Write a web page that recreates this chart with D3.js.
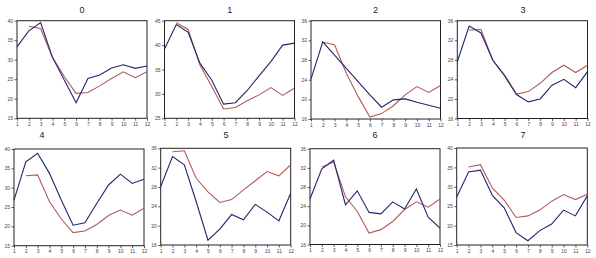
<!DOCTYPE html>
<html><head><meta charset="utf-8">
<script src="https://cdn.jsdelivr.net/npm/d3@7"></script>
<style>body{margin:0;background:#fff}svg{display:block}</style>
</head><body>
<script>
const months = [1,2,3,4,5,6,7,8,9,10,11,12];
const panelTitles = ["0","1","2","3","4","5","6","7"];
const yDomains = [[15,40],[25,45],[16,36],[16,36],[15,40],[16,36],[16,36],[15,40]];
const yTicks = [
  [15,20,25,30,35,40],[25,30,35,40,45],[16,20,24,28,32,36],[16,20,24,28,32,36],
  [15,20,25,30,35,40],[16,20,24,28,32,36],[16,20,24,28,32,36],[15,20,25,30,35,40]];
// blue series: months 1..12
const blue = [
  [33.3,37.4,39.5,30.6,24.8,19.0,25.2,26.1,27.9,28.7,27.8,28.4],
  [39.2,44.2,42.6,36.3,32.8,27.9,28.2,30.7,33.7,36.6,40.0,40.4],
  [24.1,31.7,29.0,26.3,23.6,20.9,18.4,19.9,20.1,19.4,18.8,18.2],
  [27.6,34.9,33.5,27.9,24.7,20.9,19.4,20.0,22.8,24.0,22.3,25.6],
  [26.8,36.7,38.9,33.7,26.8,20.3,20.9,25.9,30.7,33.5,31.1,32.2],
  [28.1,34.3,32.6,25.0,17.0,19.3,22.3,21.2,24.4,22.8,21.0,26.7],
  [25.5,31.8,33.6,24.3,27.2,22.7,22.4,24.9,23.4,27.6,21.7,19.4],
  [27.4,33.8,34.3,27.8,24.6,18.2,16.1,18.7,20.4,24.0,22.5,27.7]];
// red series: months 2..12
const red = [
  [38.6,38.0,30.6,25.7,21.4,21.6,23.3,25.2,26.9,25.4,26.9],
  [44.6,43.2,35.9,31.5,26.9,27.2,28.6,29.8,31.3,29.7,31.2],
  [31.6,31.1,25.3,20.6,16.4,17.1,18.7,20.9,22.6,21.4,22.8],
  [34.1,34.2,27.9,24.9,21.0,21.5,23.2,25.4,26.9,25.4,26.9],
  [33.1,33.3,26.4,21.9,18.4,18.8,20.5,22.8,24.2,22.9,24.7],
  [35.3,35.5,29.8,27.0,24.8,25.4,27.4,29.3,31.2,30.3,32.6],
  [32.2,33.2,26.0,22.9,18.4,19.1,20.8,23.3,24.9,23.8,25.5],
  [35.1,35.7,29.7,26.6,22.1,22.5,24.0,26.3,28.0,26.7,28.1]];

const boxes = [
  [17,20.7,147,118.3],[164.5,20.7,294.5,118.3],[311,20.7,440.5,119],[457.3,20.7,587.5,118.5],
  [14,149,144,245.7],[160.7,148.3,290.7,245],[310,148.7,440,244.5],[456.7,148,587.3,245]];
const titlePos = [[82,12.5],[229.7,12.5],[375.5,12.5],[523,12.5],[42,138],[226,138],[375,138],[523,138]];

const svg = d3.select("body").append("svg").attr("width",596).attr("height",258)
  .style("font-family","'Liberation Sans', Arial, sans-serif");

boxes.forEach((b,i)=>{
  const [x0,y0,x1,y1] = b;
  const x = d3.scaleLinear().domain([1,12]).range([x0,x1]);
  const y = d3.scaleLinear().domain(yDomains[i]).range([y1,y0]);
  const g = svg.append("g");
  g.append("text").attr("x",titlePos[i][0]).attr("y",titlePos[i][1])
    .attr("text-anchor","middle").attr("font-size",9).attr("fill","#222").text(panelTitles[i]);
  const xa = g.append("g").attr("transform",`translate(0,${y1})`)
    .call(d3.axisBottom(x).tickValues(months).tickSize(2.5).tickPadding(1.5).tickFormat(d3.format("d")));
  const ya = g.append("g").attr("transform",`translate(${x0},0)`)
    .call(d3.axisLeft(y).tickValues(yTicks[i]).tickSize(2.5).tickPadding(1.5).tickFormat(d3.format("d")));
  [xa,ya].forEach(a=>{
    a.select(".domain").remove();
    a.selectAll("line").attr("stroke","#333").attr("stroke-width",0.8);
    a.selectAll("text").attr("font-size",5).attr("fill","#444").style("font-family","'Liberation Sans', Arial, sans-serif");
  });
  g.append("rect").attr("x",x0).attr("y",y0).attr("width",x1-x0).attr("height",y1-y0)
    .attr("fill","none").attr("stroke","#222").attr("stroke-width",1);
  const line = d3.line().x(d=>x(d[0])).y(d=>y(d[1]));
  const redPts = red[i].map((v,k)=>[months[k+1],v]);
  const bluePts = blue[i].map((v,k)=>[months[k],v]);
  g.append("path").attr("d",line(redPts)).attr("fill","none").attr("stroke","#b25a5a").attr("stroke-width",1.1);
  g.append("path").attr("d",line(bluePts)).attr("fill","none").attr("stroke","#24246e").attr("stroke-width",1.1);
});
</script>
</body></html>
